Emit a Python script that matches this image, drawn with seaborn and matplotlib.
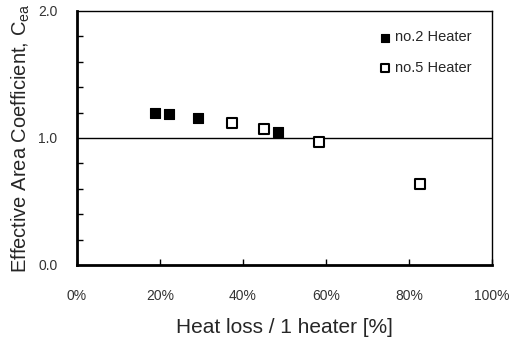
import matplotlib
matplotlib.use("Agg")
import matplotlib.pyplot as plt
import seaborn as sns
import pandas as pd
from matplotlib.ticker import MultipleLocator, PercentFormatter

# data
no2_loss = [18.9, 22.3, 29.1, 48.4]
no2_cea = [1.20, 1.19, 1.16, 1.05]
no5_loss = [37.3, 45.2, 58.3, 82.7]
no5_cea = [1.12, 1.07, 0.97, 0.64]
series_names = ["no.2 Heater", "no.5 Heater"]
x_ticks = [0, 20, 40, 60, 80, 100]
y_ticks = [0.0, 1.0, 2.0]

df2 = pd.DataFrame({"loss": no2_loss, "cea": no2_cea})
df5 = pd.DataFrame({"loss": no5_loss, "cea": no5_cea})

sns.set_style("white")
plt.rcParams["font.family"] = ["Liberation Sans", "DejaVu Sans"]
plt.rcParams["xtick.bottom"] = True
plt.rcParams["ytick.left"] = True

fig = plt.figure(figsize=(5.12, 3.41), dpi=100)
ax = fig.add_axes([0.150, 0.223, 0.811, 0.745])

sns.scatterplot(data=df2, x="loss", y="cea", ax=ax, marker="s", s=55,
                color="black", edgecolor="black", linewidth=0.8,
                label=series_names[0], zorder=3)
sns.scatterplot(data=df5, x="loss", y="cea", ax=ax, marker="s", s=42,
                facecolor="white", edgecolor="black", linewidth=1.5,
                label=series_names[1], zorder=3)

ax.axhline(1.0, color="black", lw=1.0, zorder=2)

ax.set_xlim(0, 100)
ax.set_ylim(0, 2.0)
ax.set_xticks(x_ticks)
ax.xaxis.set_major_formatter(PercentFormatter(decimals=0))
ax.set_yticks(y_ticks)
ax.set_yticklabels([f"{v:.1f}" for v in y_ticks])
ax.yaxis.set_minor_locator(MultipleLocator(0.2))

ax.tick_params(axis="both", which="both", direction="in", colors="black",
               labelcolor="#333333", labelsize=10)
ax.tick_params(axis="x", which="major", length=4, width=1, pad=17, bottom=True)
ax.tick_params(axis="y", which="major", length=0, pad=14)
ax.tick_params(axis="y", which="minor", length=4.5, width=1, left=True)

for side in ["left", "bottom"]:
    ax.spines[side].set_linewidth(2.0)
    ax.spines[side].set_color("black")
for side in ["top", "right"]:
    ax.spines[side].set_linewidth(1.0)
    ax.spines[side].set_color("black")

ax.set_xlabel("Heat loss / 1 heater [%]", fontsize=15, labelpad=11)
ax.set_ylabel(r"Effective Area Coefficient, C$_\mathregular{ea}$", fontsize=14.5, labelpad=4)

leg = ax.legend(loc="upper right", bbox_to_anchor=(0.951, 0.923), frameon=False,
                fontsize=10.5, handletextpad=0.2, labelspacing=1.15,
                markerscale=0.8, borderaxespad=0, borderpad=0, handlelength=1.0)

fig.savefig("out.png", dpi=100)
